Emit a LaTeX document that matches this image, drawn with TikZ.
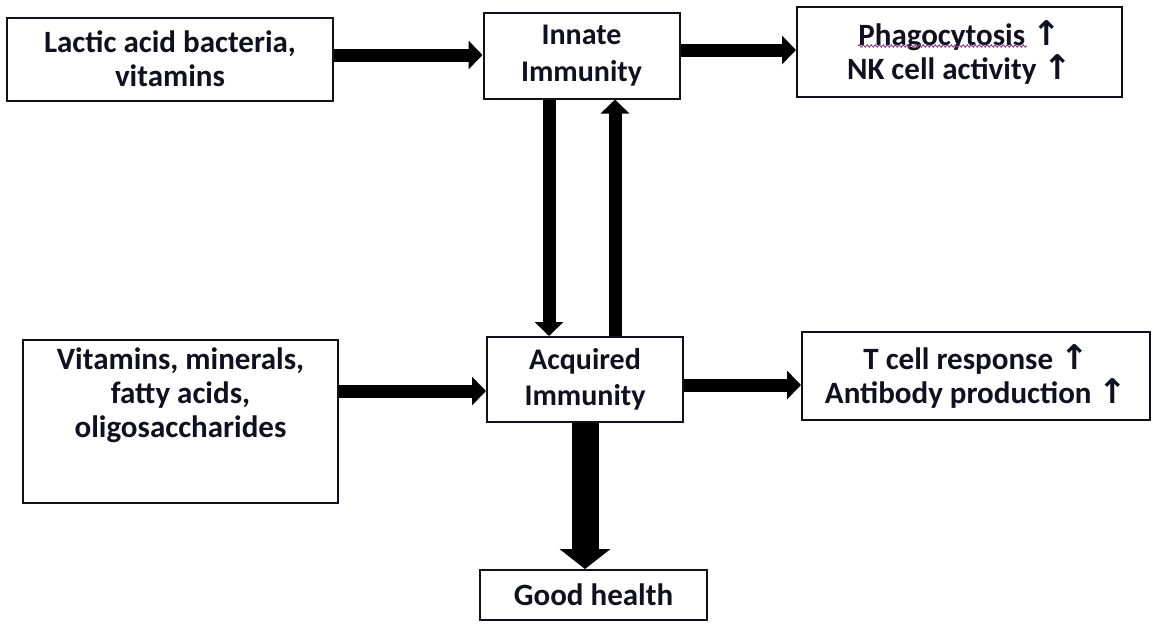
\documentclass[tikz,border=0pt]{standalone}
\usepackage{fontspec}
\setmainfont{Carlito}
\newfontfamily\symf{DejaVu Sans}
\usetikzlibrary{arrows.meta,decorations.pathmorphing,calc}
\definecolor{ink}{HTML}{101020}
\definecolor{squig}{HTML}{8A3A8A}
\newcommand{\up}{{\hspace{7pt}\symf\fontsize{34}{34}\selectfont ↑}}
\tikzset{
  box/.style={draw=ink, line width=2pt, inner sep=0pt, align=center, text=ink,
    font=\fontsize{31}{34}\selectfont\bfseries},
  arr/.style={draw=black, line width=13pt, -{Triangle[length=14pt,width=28pt]}},
  bigarr/.style={draw=black, line width=27pt, -{Triangle[length=20pt,width=50pt]}}
}
\begin{document}
\begin{tikzpicture}[x=1pt,y=-1pt]
\useasboundingbox (0,0) rectangle (1153,625);
\node[box, minimum width=326pt, minimum height=83pt] (lab) at (170,59)
  {Lactic acid bacteria,\\vitamins};
\node[box, minimum width=196pt, minimum height=86pt,
  font=\fontsize{30}{37}\selectfont\bfseries] (innate) at (581.5,55.5)
  {Innate\\Immunity};
\node[box, minimum width=325pt, minimum height=90pt] (phago) at (959.5,52)
  {Phagocytosis\up\\NK cell activity\up};
\node[box] (vit) at (180.5,421.5)
  {\parbox[c][163pt][t]{315pt}{\centering\vspace*{8pt}Vitamins, minerals,\\fatty acids,\\oligosaccharides}};
\node[box, minimum width=196pt, minimum height=85pt,
  font=\fontsize{30}{36}\selectfont\bfseries] (acq) at (585,379.5)
  {Acquired\\Immunity};
\node[box, minimum width=348pt, minimum height=88pt] (tcell) at (976,376)
  {T cell response\up\\Antibody production\up};
\node[box, minimum width=227pt, minimum height=50pt] (good) at (593.5,595)
  {Good health};
% spelling squiggle under Phagocytosis
\draw[squig, line width=0.9pt, decorate,
  decoration={snake, amplitude=1.2pt, segment length=4pt}]
  ($(phago.center)+(-101.5,-6)$) -- ($(phago.center)+(67.5,-6)$);
% arrows
\draw[arr] (lab.east |- 0,55) -- (innate.west |- 0,55);
\draw[arr] (innate.east |- 0,50) -- (phago.west |- 0,50);
\draw[arr] (vit.east |- 0,391) -- (acq.west |- 0,391);
\draw[arr] (acq.east |- 0,385) -- (tcell.west |- 0,385);
\draw[arr] (innate.south -| 549,0) -- (acq.north -| 549,0);
\draw[arr] (acq.north -| 615,0) -- (innate.south -| 615,0);
\draw[bigarr] (acq.south -| 585,0) -- (good.north -| 585,0);
\end{tikzpicture}
\end{document}
